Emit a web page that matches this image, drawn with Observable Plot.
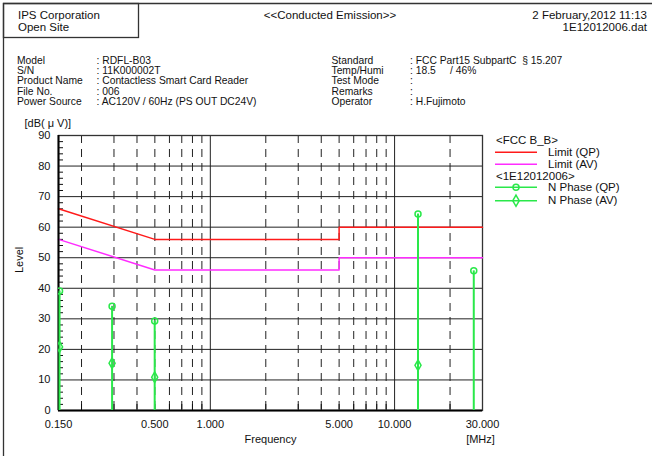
<!DOCTYPE html>
<html><head><meta charset="utf-8">
<script src="https://cdn.jsdelivr.net/npm/d3@7"></script>
<script src="https://cdn.jsdelivr.net/npm/@observablehq/plot@0.6"></script>
<style>
body{margin:0;background:#fff;}
#page{position:relative;width:652px;height:456px;overflow:hidden;font-family:"Liberation Sans",Arial,sans-serif;}
#page svg{position:absolute;}
</style></head><body><div id="page"></div>
<script>
// ---- data ----
const limitFreq = [0.15, 0.5, 5, 5, 30];
const limitQP = [66, 56, 56, 60, 60];
const limitAV = [56, 46, 46, 50, 50];
const measFreq = [0.152, 0.293, 0.499, 13.4, 26.9];
const measQP = [39.1, 34.1, 29.3, 64.3, 45.7];
const measAV = [20.8, 15.5, 10.9, 14.8, null];
const xTickValues = [0.15, 0.5, 1, 5, 10, 30];
const yTickValues = [0, 10, 20, 30, 40, 50, 60, 70, 80, 90];
const gridMinorX = [0.2, 0.3, 0.4, 0.5, 0.6, 0.7, 0.8, 0.9, 2, 3, 4, 5, 6, 7, 8, 9, 20];
const gridMajorX = [1, 10];
const minorY = d3.range(2, 90, 2).filter(v => v % 10 !== 0);
const headerLeft = ["IPS Corporation", "Open Site"];
const headerTitle = "<<Conducted Emission>>";
const headerRight = ["2 February,2012 11:13", "1E12012006.dat"];
const infoLeftKeys = ["Model", "S/N", "Product Name", "File No.", "Power Source"];
const infoLeftVals = [": RDFL-B03", ": 11K000002T", ": Contactless Smart Card Reader", ": 006", ": AC120V / 60Hz (PS OUT DC24V)"];
const infoRightKeys = ["Standard", "Temp/Humi", "Test Mode", "Remarks", "Operator"];
const infoRightVals = [": FCC Part15 SubpartC  \u00a7 15.207", ": 18.5     / 46%", ":", ":", ": H.Fujimoto"];
const legendGroup1 = "<FCC B_B>";
const legendGroup2 = "<1E12012006>";
const seriesNames = ["Limit (QP)", "Limit (AV)", "N Phase (QP)", "N Phase (AV)"];

const RED = "#ff1a1a", MAG = "#ff2cff", GREEN = "#2ae84a";

const limitData = limitFreq.map((f, i) => ({f, qp: limitQP[i], av: limitAV[i]}));
const measData = measFreq.map((f, i) => ({f, qp: measQP[i], av: measAV[i]}));

const page = d3.select("#page");

// ---- overlay: borders, header, info, legend ----
const ov = page.append("svg").attr("width", 652).attr("height", 456).style("left", "0px").style("top", "0px")
  .style("font-family", "'Liberation Sans', Arial, sans-serif").style("fill", "#111");
ov.append("path").attr("d", "M3.5,456V3.5H652").attr("fill", "none").attr("stroke", "#333").attr("stroke-width", 1.3);
ov.append("rect").attr("x", 3.5).attr("y", 3.5).attr("width", 135).attr("height", 34).attr("fill", "none").attr("stroke", "#333").attr("stroke-width", 1.3);

function txt(s, x, y, opts = {}) {
  const t = ov.append("text").attr("x", x).attr("y", y).text(s)
    .style("font-size", (opts.size || 11.5) + "px").style("white-space", "pre");
  if (opts.anchor) t.attr("text-anchor", opts.anchor);
  return t;
}
txt(headerLeft[0], 18, 19);
txt(headerLeft[1], 18, 31);
txt(headerTitle, 330, 19, {anchor: "middle"});
txt(headerRight[0], 647, 19, {anchor: "end"});
txt(headerRight[1], 647, 31, {anchor: "end"});
infoLeftKeys.forEach((k, i) => { const y = 63.5 + 10.4 * i; txt(k, 17, y, {size: 10.3}); txt(infoLeftVals[i], 96.5, y, {size: 10.3}); });
infoRightKeys.forEach((k, i) => { const y = 63.5 + 10.4 * i; txt(k, 331.5, y, {size: 10.3}); txt(infoRightVals[i], 410, y, {size: 10.3}); });

// legend
txt(legendGroup1, 496, 144);
txt(legendGroup2, 496, 180);
const legY = [152.3, 164.3, 187.3, 200.7];
const legC = [RED, MAG, GREEN, GREEN];
const legT = [156, 167.7, 191, 204];
seriesNames.forEach((s, i) => {
  ov.append("line").attr("x1", 495).attr("x2", 537).attr("y1", legY[i]).attr("y2", legY[i]).attr("stroke", legC[i]).attr("stroke-width", 1.5);
  txt(s, 548, legT[i]);
});
ov.append("circle").attr("cx", 516).attr("cy", legY[2]).attr("r", 3).attr("fill", "none").attr("stroke", GREEN).attr("stroke-width", 1.5);
ov.append("path").attr("d", d3.symbol(d3.symbolDiamond, 36)()).attr("transform", `translate(516,${legY[3]})`).attr("fill", "none").attr("stroke", GREEN).attr("stroke-width", 1.5);

// ---- chart ----
const plotW = 652 - 58 - 170, plotH = 331 - 10 - 46;
const chart = Plot.plot({
  width: 652, height: 331,
  marginLeft: 58, marginRight: 170, marginTop: 10, marginBottom: 46,
  style: {fontFamily: "'Liberation Sans', Arial, sans-serif", fontSize: "11px", background: "transparent", color: "#111", overflow: "visible"},
  x: {type: "log", domain: [0.15, 30]},
  y: {domain: [0, 90]},
  marks: [
    Plot.ruleY(yTickValues.slice(1), {stroke: "#222", strokeWidth: 1}),
    Plot.ruleX(gridMinorX, {stroke: "#222", strokeWidth: 1, strokeDasharray: "8,6"}),
    Plot.ruleX(gridMajorX, {stroke: "#222", strokeWidth: 1}),
    Plot.tickY(minorY, {insetRight: plotW - 5, stroke: "#111"}),
    Plot.tickX(gridMinorX, {insetTop: plotH - 6, stroke: "#111"}),
    Plot.frame({stroke: "#333", strokeWidth: 1.3}),
    Plot.axisY({ticks: yTickValues, tickSize: 0, tickPadding: 8, label: null}),
    Plot.axisX({ticks: xTickValues, tickSize: 0, tickPadding: 10, tickFormat: d3.format(".3f"), label: null}),
    Plot.line(limitData, {x: "f", y: "qp", stroke: RED, strokeWidth: 1.5}),
    Plot.line(limitData, {x: "f", y: "av", stroke: MAG, strokeWidth: 1.5}),
    Plot.ruleY([0], {stroke: "#000", strokeWidth: 2}),
    Plot.ruleX([0.15], {stroke: "#000", strokeWidth: 2}),
    Plot.ruleX(measData, {x: "f", y1: 0, y2: "qp", stroke: GREEN, strokeWidth: 2, clip: true}),
    Plot.dot(measData, {x: "f", y: "qp", r: 3, fill: "none", stroke: GREEN, strokeWidth: 1.5, clip: true}),
    Plot.dot(measData.filter(d => d.av != null), {x: "f", y: "av", symbol: "diamond", r: 3.2, fill: "none", stroke: GREEN, strokeWidth: 1.5, clip: true}),
    Plot.text(["Level"], {text: d => d, frameAnchor: "left", dx: -39.5, rotate: -90, fontSize: 11}),
    Plot.text(["Frequency"], {text: d => d, frameAnchor: "bottom", dy: 32, fontSize: 11}),
    Plot.text(["[MHz]"], {text: d => d, frameAnchor: "bottom-right", textAnchor: "middle", dx: -2, dy: 32, fontSize: 11}),
    Plot.text(["[dB( \u03bc V)]"], {text: d => d, frameAnchor: "top-left", textAnchor: "start", dx: -34, dy: -16, fontSize: 11})
  ]
});
d3.select(chart).style("left", "0px").style("top", "125px");
page.node().appendChild(chart);
</script>
</body></html>
